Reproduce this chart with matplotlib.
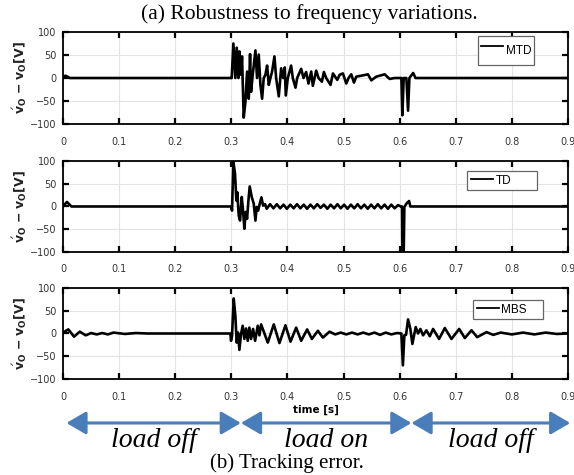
import numpy as np
import matplotlib
matplotlib.use("Agg")
import matplotlib.pyplot as plt
from matplotlib.patches import FancyArrowPatch

# tracking error (time in s, error in V)
mtd_t = [0.0, 0.004, 0.008, 0.012, 0.300, 0.3006, 0.3036, 0.3071, 0.3095, 0.3125,
         0.3143, 0.3173, 0.3190, 0.3220, 0.3250, 0.3280, 0.3310, 0.3333, 0.3351,
         0.3381, 0.3429, 0.3458, 0.3488, 0.3518, 0.3548, 0.3577, 0.3607, 0.3637,
         0.3667, 0.3696, 0.3726, 0.3768, 0.3798, 0.3845, 0.3887, 0.3923, 0.3952,
         0.3970, 0.4006, 0.4065, 0.4095, 0.4143, 0.4173, 0.4244, 0.4286, 0.4333,
         0.4375, 0.4423, 0.4452, 0.4512, 0.4554, 0.4613, 0.4649, 0.4690, 0.4768,
         0.4810, 0.4887, 0.4929, 0.4988, 0.5048, 0.5089, 0.5137, 0.5185, 0.5226,
         0.5315, 0.5435, 0.5494, 0.5583, 0.5732, 0.5821, 0.5911, 0.6030, 0.6048,
         0.6071, 0.6119, 0.6149, 0.6173, 0.6240, 0.6282, 0.9]
mtd_v = [0, 5, 3, 0, 0, 0, 75, 0, 66, 0,
         58, 7, 47, -86, -53, 14, -45, 52, -30,
         7, 60, 0, 51, -15, -45, 0, 7, 27,
         -15, 0, 14, 47, 0, -40, 21, 0, 23,
         -38, 0, 27, 0, -21, 0, 20, 0, 13,
         -12, 14, -17, 16, 0, -8, 13, 0, -15,
         10, -4, 7, 10, -12, 0, 8, -10, 3,
         5, 8, -5, 3, 8, -2, 0, 0, -81,
         0, 0, -71, 0, 11, 0, 0]

td_t = [0.0, 0.004, 0.007, 0.011, 0.015, 0.2994, 0.3012, 0.3036, 0.3065, 0.3089,
        0.3107, 0.3131, 0.3155, 0.3185, 0.3208, 0.3232, 0.3256, 0.3280, 0.3304,
        0.3327, 0.3363, 0.3399, 0.3429, 0.3452, 0.3476, 0.3506, 0.3536, 0.3565,
        0.3601, 0.3630, 0.3690, 0.3750, 0.3810, 0.3870, 0.3930, 0.3990, 0.4050,
        0.4110, 0.4170, 0.4230, 0.4290, 0.4350, 0.4410, 0.4470, 0.4530, 0.4590,
        0.4650, 0.4710, 0.4770, 0.4830, 0.4890, 0.4950, 0.5010, 0.5070, 0.5130,
        0.5190, 0.5250, 0.5310, 0.5370, 0.5430, 0.5490, 0.5550, 0.5610, 0.5670,
        0.5730, 0.5790, 0.5850, 0.5910, 0.5970, 0.6020, 0.6042, 0.6048, 0.6071,
        0.6083, 0.6125, 0.6167, 0.6190, 0.9]
td_v = [0, 6, 10, 5, 0, 0, -9, 98, 72, 13,
        31, -20, -31, 21, -9, -49, -12, -27, 13,
        44, 21, 6, -31, -1, -9, 6, 20, 2,
        5, -5, 5, -4, 5, -4, 4, -5, 4,
        -4, 5, -4, 4, -5, 4, -4, 5, -3,
        4, -5, 4, -4, 5, -4, 4, -5, 4,
        -4, 5, -4, 4, -5, 4, -4, 5, -4,
        4, -5, 4, -4, 3, 0, 0, -105, -105,
        -1, 7, 12, 0, 0]

mbs_t = [0.0, 0.004, 0.0095, 0.0196, 0.0298, 0.0405, 0.050, 0.060, 0.070, 0.080,
         0.090, 0.110, 0.130, 0.150, 0.2982, 0.2994, 0.3012, 0.3042, 0.3071, 0.3095,
         0.3119, 0.3143, 0.3173, 0.3202, 0.3232, 0.3262, 0.3292, 0.3321, 0.3351,
         0.3387, 0.3423, 0.3470, 0.3500, 0.3530, 0.3649, 0.3756, 0.3857, 0.3964,
         0.4054, 0.4155, 0.4244, 0.4351, 0.4435, 0.4542, 0.4631, 0.4750, 0.4850,
         0.4950, 0.5050, 0.5150, 0.5250, 0.5350, 0.5450, 0.5550, 0.5650, 0.5750,
         0.5850, 0.5950, 0.6030, 0.6057, 0.6083, 0.6113, 0.6149, 0.6190, 0.6226,
         0.6256, 0.6286, 0.6327, 0.6369, 0.6417, 0.6476, 0.6536, 0.6595, 0.6702,
         0.6804, 0.6923, 0.7060, 0.7161, 0.7280, 0.7381, 0.7548, 0.7667, 0.780,
         0.800, 0.820, 0.840, 0.860, 0.880, 0.9]
mbs_v = [0, 5, 9, -7, 4, -4, 1, -2, 1, -2,
         2, -1, 1, 0, 0, -16, -5, 77, 39, -20,
         2, -36, -1, 17, -12, 11, -16, 13, -12,
         10, -16, 17, -4, 20, -20, 20, -21, 18,
         -18, 13, -16, 9, -12, 6, -9, 4, -2,
         2, -2, 2, -2, 2, -2, 2, -3, 2,
         -2, 1, 0, -70, -4, -3, 31, 10, -23,
         -4, 14, 0, 10, -4, 7, -6, 10, -12,
         12, -12, 10, -10, 7, -8, 3, -3, 2,
         -2, 2, -2, 2, -1, 0]

series = [("MTD", mtd_t, mtd_v), ("TD", td_t, td_v), ("MBS", mbs_t, mbs_v)]

x_ticks = [0, 0.1, 0.2, 0.3, 0.4, 0.5, 0.6, 0.7, 0.8, 0.9]
x_tick_labels = ["0", "0.1", "0.2", "0.3", "0.4", "0.5", "0.6", "0.7", "0.8", "0.9"]
y_ticks = [-100, -50, 0, 50, 100]

phase_names = ["load off", "load on", "load off"]
phase_edges = [0.0, 0.317, 0.621, 0.904]  # where the arrows start/stop (in time units)

plt.rcParams["mathtext.fontset"] = "dejavusans"

fig = plt.figure(figsize=(5.74, 4.75), dpi=100)

# panel boxes [left, bottom, width, height] in figure fraction
boxes = [[0.1098, 0.7389, 0.8798, 0.1937],
         [0.1098, 0.4695, 0.8798, 0.1916],
         [0.1098, 0.2021, 0.8798, 0.1916]]
leg_pos = [None, (0.800, 0.659, 0.1386, 0.231), (0.812, 0.648, 0.1386, 0.22)]

ylab = r"$\acute{\mathbf{v}}_\mathbf{O}\ \mathbf{-}\ \mathbf{v}_\mathbf{O}$" + "[V]"

axes = []
for i, (name, t, v) in enumerate(series):
    ax = fig.add_axes(boxes[i])
    ax.plot(t, v, color="black", lw=1.9, label=name, solid_joinstyle="round")
    ax.set_xlim(0, 0.9)
    ax.set_ylim(-100, 100)
    ax.set_xticks(x_ticks)
    ax.set_xticklabels(x_tick_labels)
    ax.set_yticks(y_ticks)
    ax.grid(True, color="#e3e3e3", lw=0.8)
    ax.set_axisbelow(True)
    ax.tick_params(direction="in", top=True, right=True, length=4, width=1.6,
                   labelsize=7, labelcolor="#333333")
    ax.tick_params(axis="x", pad=9)
    ax.tick_params(axis="y", pad=5)
    for sp in ax.spines.values():
        sp.set_linewidth(1.3)
    ax.set_ylabel(ylab, fontsize=9, fontweight="bold", color="#222222")
    ax.yaxis.set_label_coords(-0.068, 0.5)
    if i == 0:
        leg = ax.legend(loc="upper right", bbox_to_anchor=(0.933, 0.957), borderaxespad=0,
                        fancybox=False, edgecolor="#666666", framealpha=1,
                        prop={"family": "Liberation Sans", "size": 8.5},
                        handlelength=1.9, handletextpad=0.2, borderpad=0.25,
                        handleheight=2.6)
    else:
        leg = ax.legend(loc="upper left", bbox_to_anchor=leg_pos[i], mode="expand",
                        borderaxespad=0, fancybox=False, edgecolor="#666666",
                        framealpha=1, prop={"family": "Liberation Sans", "size": 8.5},
                        handlelength=1.9, handletextpad=0.2, borderpad=0.3)
    leg.get_frame().set_linewidth(0.9)
    for ln in leg.get_lines():
        ln.set_linewidth(1.3)
    axes.append(ax)

axes[2].set_xlabel("time [s]", fontsize=7.5, fontweight="bold", labelpad=2)

fig.text(0.539, 0.9705, "(a) Robustness to frequency variations.", ha="center", va="center",
         family="Liberation Serif", fontsize=15.5)
fig.text(0.50, 0.0253, "(b) Tracking error.", ha="center", va="center",
         family="Liberation Serif", fontsize=15)

# load phase arrows under the bottom axis, placed in its data x coords
blue = "#4a7ebb"
trans = matplotlib.transforms.blended_transform_factory(axes[2].transData, fig.transFigure)
for k, name in enumerate(phase_names):
    a = phase_edges[k] if k > 0 else 0.006
    b = phase_edges[k + 1]
    arr = FancyArrowPatch((a, 0.1095), (b, 0.1095), transform=trans,
                          arrowstyle="<|-|>,head_length=1.2,head_width=0.7",
                          mutation_scale=10, color=blue, lw=2.2,
                          shrinkA=0, shrinkB=0, clip_on=False)
    fig.patches.append(arr)
    fig.text((a + b) / 2, 0.072, name, transform=trans, ha="center", va="center",
             family="Liberation Serif", style="italic", fontsize=20)

fig.savefig("out.png", dpi=100)
